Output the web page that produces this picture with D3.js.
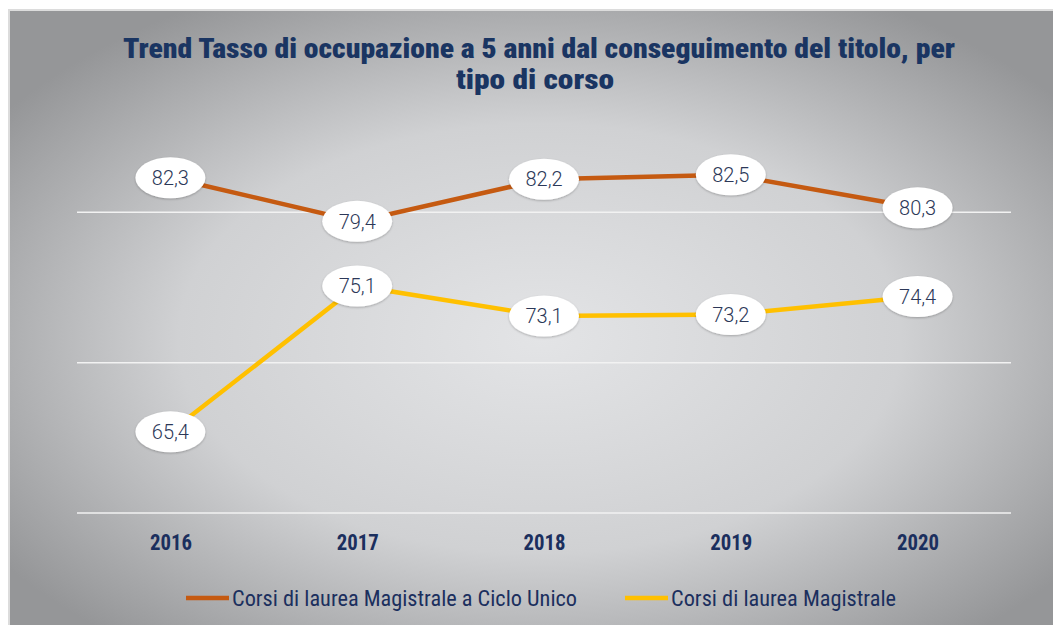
<!DOCTYPE html>
<html>
<head>
<meta charset="utf-8">
<script src="https://cdn.jsdelivr.net/npm/d3@7"></script>
<style>
  body { margin: 0; background: #fff; }
  svg { display: block; }
</style>
</head>
<body>
<svg id="chart" width="1053" height="625"></svg>
<script>
// data
var years = ["2016", "2017", "2018", "2019", "2020"];
var cicloUnico = [82.3, 79.4, 82.2, 82.5, 80.3];
var magistrale = [65.4, 75.1, 73.1, 73.2, 74.4];
var seriesNames = ["Corsi di laurea Magistrale a Ciclo Unico", "Corsi di laurea Magistrale"];
var seriesColors = ["#c55a11", "#ffc000"];
var yTicks = [60, 70, 80];
var titleLines = ["Trend Tasso di occupazione a 5 anni dal conseguimento del titolo, per", "tipo di corso"];

var condensed = "'Liberation Sans Narrow', 'Roboto Condensed', Roboto, sans-serif";
var navy = "#1b2f5e";

var svg = d3.select("#chart");
var defs = svg.append("defs");

// background gradient, light in the middle, gray on the edges
var grad = defs.append("radialGradient")
    .attr("id", "bg")
    .attr("cx", "50%").attr("cy", "52%")
    .attr("r", "62%");
grad.append("stop").attr("offset", "0%").attr("stop-color", "#e3e4e6");
grad.append("stop").attr("offset", "55%").attr("stop-color", "#d0d1d3");
grad.append("stop").attr("offset", "100%").attr("stop-color", "#959698");

var shadow = defs.append("filter").attr("id", "shadow")
    .attr("x", "-20%").attr("y", "-20%").attr("width", "140%").attr("height", "150%");
shadow.append("feDropShadow")
    .attr("dx", 0).attr("dy", 1)
    .attr("stdDeviation", 1.2)
    .attr("flood-color", "#000")
    .attr("flood-opacity", 0.25);

svg.append("rect")
    .attr("x", 8).attr("y", 9)
    .attr("width", 1060).attr("height", 630)
    .attr("fill", "#dcdcdc");
svg.append("rect")
    .attr("x", 10).attr("y", 11)
    .attr("width", 1060).attr("height", 630)
    .attr("fill", "url(#bg)");

// title
svg.append("g").selectAll("text")
    .data(titleLines)
    .enter()
    .append("text")
    .attr("x", function (d, i) { return i === 0 ? 539 : 535; })
    .attr("y", function (d, i) { return 58 + i * 31; })
    .attr("text-anchor", "middle")
    .attr("font-family", condensed)
    .attr("font-weight", 900)
    .attr("font-size", 27)
    .attr("fill", "#1a3562")
    .attr("textLength", function (d, i) { return i === 0 ? 832 : 158; })
    .attr("lengthAdjust", "spacingAndGlyphs")
    .text(function (d) { return d; });

// scales
var x = d3.scalePoint()
    .domain(years)
    .range([77, 1011])
    .padding(0.5);
var y = d3.scaleLinear()
    .domain([60, 90])
    .range([513, 62]);

// gridlines
svg.append("g").selectAll("line")
    .data(yTicks)
    .enter()
    .append("line")
    .attr("x1", 77).attr("x2", 1011)
    .attr("y1", function (d) { return y(d); })
    .attr("y2", function (d) { return y(d); })
    .attr("stroke", "#f2f2f2")
    .attr("stroke-width", 1.5);

// x axis labels
var xAxis = svg.append("g")
    .attr("transform", "translate(0,513)")
    .call(d3.axisBottom(x).tickSize(0).tickPadding(21));
xAxis.select(".domain").remove();
xAxis.selectAll("text")
    .attr("font-family", condensed)
    .attr("font-weight", "bold")
    .attr("font-size", 22)
    .attr("fill", navy)
    .attr("textLength", 42)
    .attr("lengthAdjust", "spacingAndGlyphs");

// lines
var series = [cicloUnico, magistrale];
var line = d3.line()
    .x(function (d, i) { return x(years[i]); })
    .y(function (d) { return y(d); });

svg.append("g").selectAll("path")
    .data(series)
    .enter()
    .append("path")
    .attr("d", line)
    .attr("fill", "none")
    .attr("stroke", function (d, i) { return seriesColors[i]; })
    .attr("stroke-width", 4.5);

// data labels in white ellipses
series.forEach(function (values) {
    var lab = svg.append("g").selectAll("g")
        .data(values)
        .enter()
        .append("g")
        .attr("transform", function (d, i) { return "translate(" + x(years[i]) + "," + y(d) + ")"; });
    lab.append("ellipse")
        .attr("rx", 35)
        .attr("ry", 20.5)
        .attr("fill", "#fff")
        .attr("filter", "url(#shadow)");
    lab.append("text")
        .attr("text-anchor", "middle")
        .attr("dy", "0.36em")
        .attr("font-family", "Roboto, 'Liberation Sans', sans-serif")
        .attr("font-weight", 300)
        .attr("font-size", 20)
        .attr("fill", "#2c3858")
        .text(function (d) { return d3.format(".1f")(d).replace(".", ","); });
});

// legend
var legendX = [186, 625];
var legendW = [345, 225];
var legend = svg.append("g").selectAll("g")
    .data(seriesNames)
    .enter()
    .append("g")
    .attr("transform", function (d, i) { return "translate(" + legendX[i] + ",598)"; });
legend.append("line")
    .attr("x1", 0).attr("x2", 43)
    .attr("stroke", function (d, i) { return seriesColors[i]; })
    .attr("stroke-width", 4.5);
legend.append("text")
    .attr("x", 46)
    .attr("dy", "0.35em")
    .attr("font-family", condensed)
    .attr("font-size", 22)
    .attr("fill", navy)
    .attr("textLength", function (d, i) { return legendW[i]; })
    .attr("lengthAdjust", "spacingAndGlyphs")
    .text(function (d) { return d; });
</script>
</body>
</html>
